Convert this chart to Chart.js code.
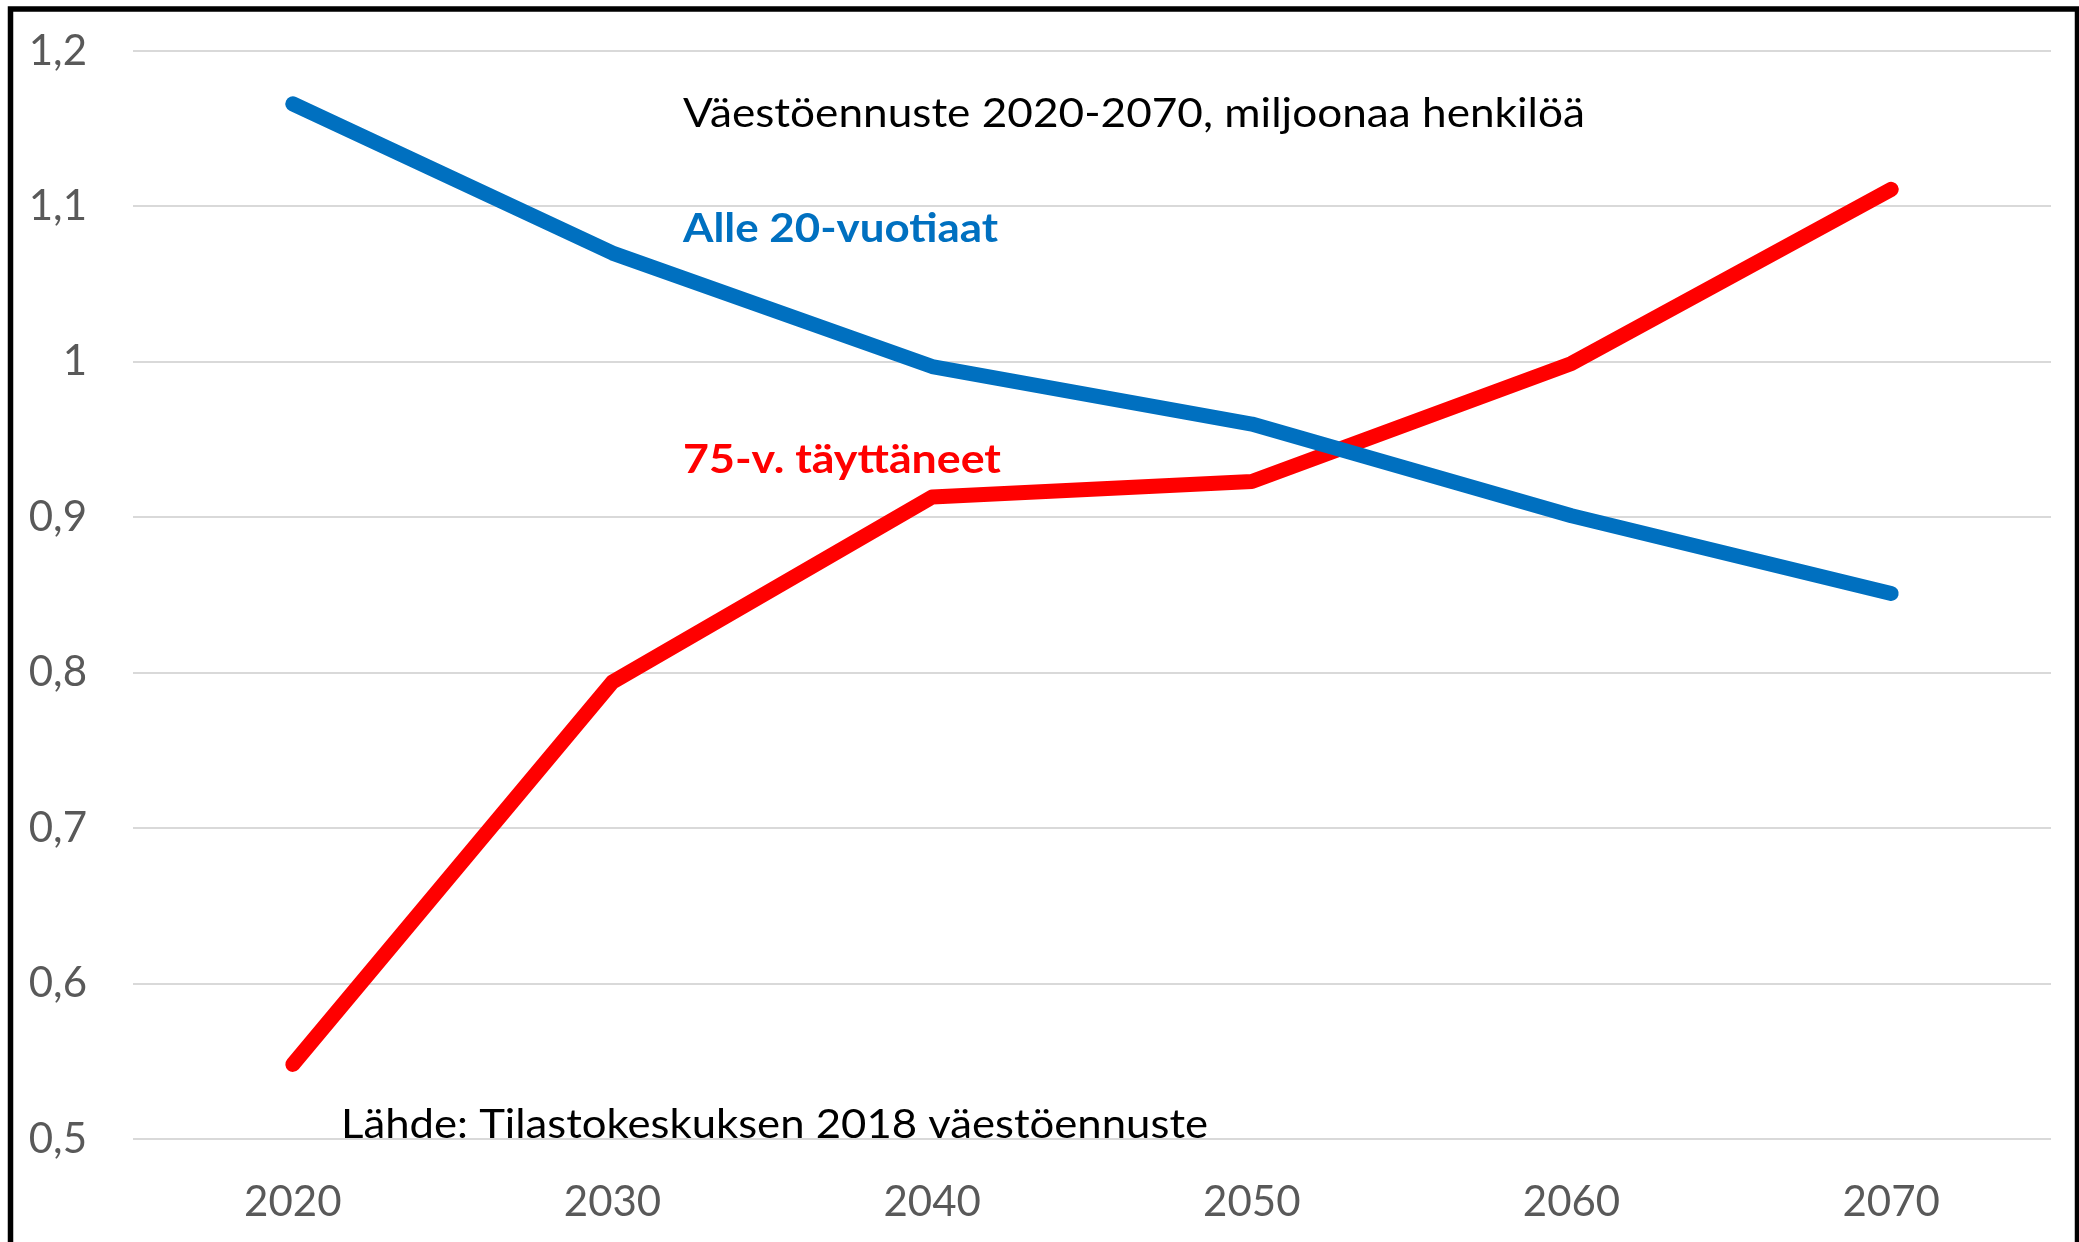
<!DOCTYPE html>
<html>
<head>
<meta charset="utf-8">
<script src="https://cdn.jsdelivr.net/npm/chart.js@4/dist/chart.umd.min.js"></script>
<style>
  html, body { margin: 0; padding: 0; background: #fff; }
  #wrap { width: 2079px; height: 1242px; position: relative; }
</style>
</head>
<body>
<div id="wrap"><canvas id="chart"></canvas></div>
<script>
// Datos
const vuodet = ['2020', '2030', '2040', '2050', '2060', '2070'];
const alle20 = [1.166, 1.070, 0.997, 0.960, 0.901, 0.851];
const yli75 = [0.548, 0.794, 0.913, 0.923, 0.999, 1.111];
const yMin = 0.5, yMax = 1.2, yStep = 0.1;

const otsikko = 'Väestöennuste 2020-2070, miljoonaa henkilöä';
const nimiAlle20 = 'Alle 20-vuotiaat';
const nimiYli75 = '75-v. täyttäneet';
const lahde = 'Lähde: Tilastokeskuksen 2018 väestöennuste';

const sininen = '#0070C0';
const punainen = '#FF0000';
const harmaa = '#595959';

// teksti venytettynä leveyteen w
function piirraTeksti(ctx, teksti, x, y, w, fontti, vari) {
  ctx.save();
  ctx.font = fontti;
  ctx.fillStyle = vari;
  const sx = w / ctx.measureText(teksti).width;
  ctx.translate(x, y);
  ctx.scale(sx, 1);
  ctx.fillText(teksti, 0, 0);
  ctx.restore();
}

// Kehys + tekstit
const tekstit = {
  id: 'tekstit',
  beforeDraw(chart) {
    const ctx = chart.ctx;
    ctx.save();
    ctx.fillStyle = '#fff';
    ctx.fillRect(0, 0, chart.width, chart.height);
    ctx.strokeStyle = '#000';
    ctx.lineWidth = 5.5;
    ctx.strokeRect(10.5, 9, 2067, 1300);
    ctx.restore();
  },
  afterDraw(chart) {
    const ctx = chart.ctx;
    ctx.textBaseline = 'alphabetic';
    ctx.textAlign = 'left';
    piirraTeksti(ctx, otsikko, 683, 127, 902, '41px Lato', '#000');
    piirraTeksti(ctx, lahde, 341, 1138, 867, '41px Lato', '#000');
    piirraTeksti(ctx, nimiAlle20, 683, 242, 315, 'bold 41px Lato', sininen);
    piirraTeksti(ctx, nimiYli75, 683, 473, 318, 'bold 41px Lato', punainen);
  }
};

const ctx = document.getElementById('chart').getContext('2d');
new Chart(ctx, {
  type: 'line',
  data: {
    labels: vuodet,
    datasets: [
      { label: nimiAlle20, data: alle20, borderColor: sininen, borderWidth: 15, pointRadius: 0,
        borderCapStyle: 'round', borderJoinStyle: 'round', tension: 0 },
      { label: nimiYli75, data: yli75, borderColor: punainen, borderWidth: 15, pointRadius: 0,
        borderCapStyle: 'round', borderJoinStyle: 'round', tension: 0 }
    ]
  },
  options: {
    responsive: true,
    maintainAspectRatio: false,
    animation: false,
    layout: { padding: { top: 51, right: 28, bottom: 0, left: 0 } },
    plugins: { legend: { display: false }, tooltip: { enabled: false } },
    scales: {
      x: {
        offset: true,
        grid: { display: false, drawTicks: false },
        border: { display: false },
        ticks: { color: harmaa, font: { family: 'Lato', size: 42 }, padding: 38 },
        afterFit(scale) { scale.height = 103; scale.paddingLeft = 0; scale.paddingRight = 0; }
      },
      y: {
        min: yMin, max: yMax,
        grid: { color: '#d9d9d9', lineWidth: 2, drawTicks: false },
        border: { display: false },
        ticks: {
          stepSize: yStep, color: harmaa, font: { family: 'Lato', size: 42 }, padding: 46,
          callback: (v) => String(Math.round(v * 10) / 10).replace('.', ',')
        },
        afterFit(scale) { scale.width = 133; scale.paddingTop = 0; scale.paddingBottom = 0; }
      }
    }
  },
  plugins: [tekstit]
});
</script>
</body>
</html>
